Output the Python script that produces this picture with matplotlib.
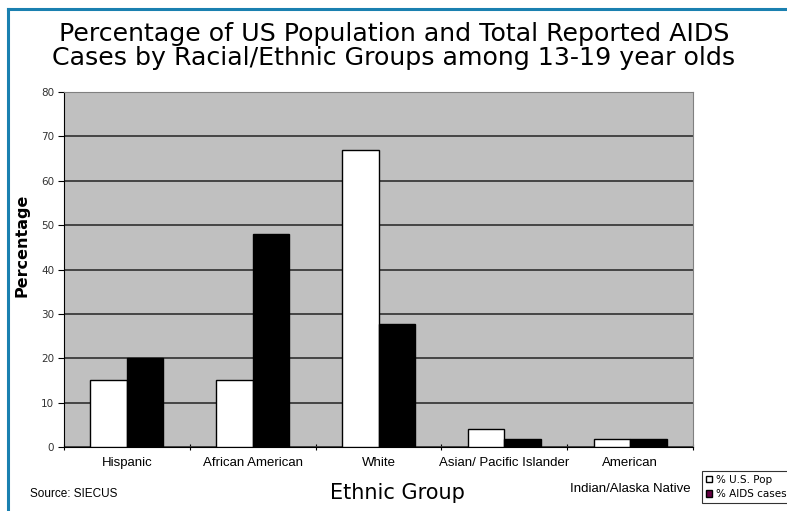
import numpy as np
import matplotlib.pyplot as plt
from matplotlib.patches import Patch

groups = ["Hispanic", "African American", "White", "Asian/ Pacific Islander",
          "American\n\nIndian/Alaska Native"]
us_pop = [15, 15, 67, 4, 1.7]
aids_cases = [20, 48, 27.8, 1.8, 1.7]
yticks = [0, 10, 20, 30, 40, 50, 60, 70, 80]

narrow = ["Liberation Sans", "DejaVu Sans"]

fig = plt.figure(figsize=(7.87, 5.11), dpi=100)
ax = fig.add_axes([64 / 787, 1 - 447 / 511, (693 - 64) / 787, (447 - 92) / 511])

x = np.arange(len(groups))
w = 0.29
ax.bar(x - w / 2, us_pop, w, color="white", edgecolor="black", linewidth=1, zorder=3)
ax.bar(x + w / 2, aids_cases, w, color="black", edgecolor="black", linewidth=1, zorder=3)

ax.set_facecolor("#c0c0c0")
ax.set_xlim(-0.5, len(groups) - 0.5)
ax.set_ylim(0, 80)
ax.set_yticks(yticks)
ax.yaxis.grid(True, color="#3a3a3a", linewidth=1.3, zorder=1)
ax.set_axisbelow(True)

# category boundaries carry the ticks, labels sit under the group centres
ax.set_xticks(np.arange(len(groups) + 1) - 0.5)
ax.set_xticklabels([])
ax.set_xticks(x, minor=True)
ax.set_xticklabels(groups, minor=True, fontsize=9.5, family=narrow, linespacing=1.1)
ax.tick_params(axis="x", which="minor", length=0, pad=7)
ax.tick_params(axis="x", which="major", length=4, direction="inout", color="black")
ax.tick_params(axis="y", length=4, labelsize=7.5, colors="#333333", pad=3)
ax.tick_params(axis="y", color="black")

for s in ["top", "right"]:
    ax.spines[s].set_color("#808080")
ax.spines["left"].set_color("black")
ax.spines["bottom"].set_color("black")

fig.text(22 / 787, 1 - 245 / 511, "Percentage", rotation=90, ha="center", va="center",
         fontsize=11.5, fontweight="bold")

fig.text(394 / 787, 1 - 46 / 511,
         "Percentage of US Population and Total Reported AIDS\n"
         "Cases by Racial/Ethnic Groups among 13-19 year olds",
         ha="center", va="center", fontsize=18.2, linespacing=0.95)
fig.text(397 / 787, 1 - 493 / 511, "Ethnic Group", ha="center", va="center", fontsize=15)
fig.text(30 / 787, 1 - 494 / 511, "Source: SIECUS", ha="left", va="center",
         fontsize=8.5, family=narrow)

handles = [Patch(facecolor="white", edgecolor="black", linewidth=1),
           Patch(facecolor="#660044", edgecolor="black", linewidth=1)]
leg = fig.legend(handles, ["% U.S. Pop", "% AIDS cases"], loc="upper left",
                 bbox_to_anchor=(702 / 787, 1 - 471 / 511), fontsize=7.5,
                 handlelength=0.6, handleheight=0.6, handletextpad=0.4,
                 borderpad=0.35, labelspacing=0.45, frameon=True, fancybox=False,
                 borderaxespad=0)
leg.get_frame().set_edgecolor("black")
leg.get_frame().set_linewidth(0.8)

# blue frame along the top and left
fig.add_artist(plt.Line2D([8 / 787, 1], [1 - 9 / 511, 1 - 9 / 511],
                          transform=fig.transFigure, color="#1a80b0", linewidth=2.2))
fig.add_artist(plt.Line2D([8 / 787, 8 / 787], [0, 1 - 9 / 511],
                          transform=fig.transFigure, color="#1a80b0", linewidth=2.2))

fig.savefig("out.png", dpi=100)
